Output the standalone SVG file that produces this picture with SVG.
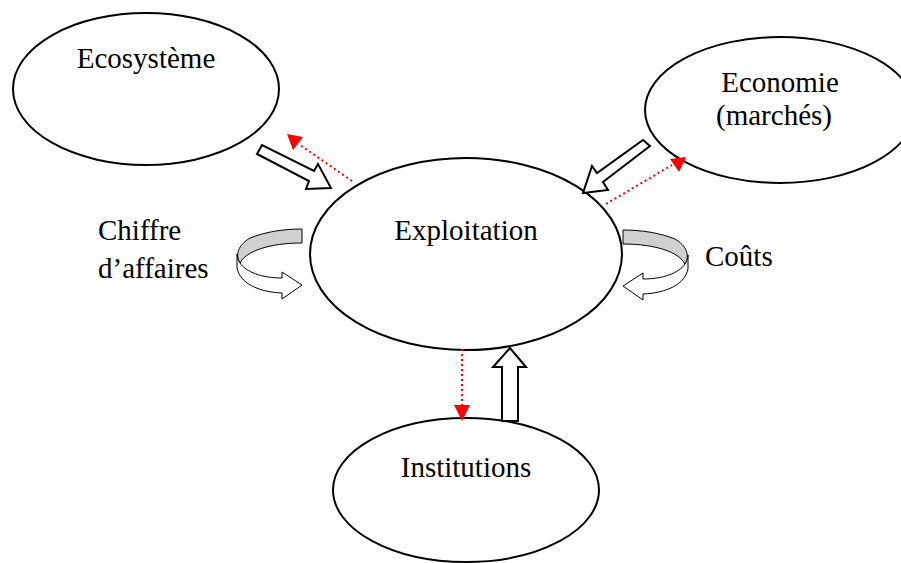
<svg xmlns="http://www.w3.org/2000/svg" width="901" height="563" viewBox="0 0 901 563">
<style>
.node{fill:#fff;stroke:#000;stroke-width:2}
.t{font-family:"Liberation Serif","Times New Roman",serif;font-size:29px;fill:#000}
.blk{fill:#fff;stroke:#000;stroke-width:2;stroke-linejoin:miter}
.red{stroke:#ff0000;stroke-width:2;stroke-dasharray:2 3;fill:none}
.rh{fill:#ff0000}
.g{fill:#d0d0d0;stroke:#000;stroke-width:1}
.w{fill:#fff;stroke:#000;stroke-width:1}
</style>
<rect width="901" height="563" fill="#fff"/>
<g id="ecosysteme"><ellipse class="node" cx="146" cy="89" rx="133" ry="76"/><text class="t" x="146" y="68" text-anchor="middle">Ecosystème</text></g>
<g id="economie"><ellipse class="node" cx="780" cy="110" rx="135" ry="73"/><text class="t" x="780" y="92" text-anchor="middle">Economie</text><text class="t" x="774" y="125" text-anchor="middle">(marchés)</text></g>
<g id="exploitation"><ellipse class="node" cx="466" cy="254" rx="156" ry="96"/><text class="t" x="466" y="240" text-anchor="middle">Exploitation</text></g>
<g id="institutions"><ellipse class="node" cx="466" cy="490" rx="133" ry="72"/><text class="t" x="466" y="477" text-anchor="middle">Institutions</text></g>
<g id="labels"><text class="t" x="98" y="240">Chiffre</text><text class="t" x="98" y="278">d’affaires</text><text class="t" x="705" y="266">Coûts</text></g>
<g id="connectors">
<polygon class="blk" points="257,154 262,145 314,171 318,164 331,188 306,189 309,181"/>
<polygon class="blk" points="650,146 643,140 597,173 592,166 583,193 608,190 603,182"/>
<polygon class="blk" points="502,421 502,367 493,367 510,348 526,367 518,367 518,421"/>
<line class="red" x1="352" y1="181" x2="300" y2="145"/><polygon class="rh" points="287,134 303,137 293,150"/>
<line class="red" x1="606" y1="204" x2="672" y2="165"/><polygon class="rh" points="686,157 670,159 679,172"/>
<line class="red" x1="462" y1="349" x2="462" y2="405"/><polygon class="rh" points="462,421 454,405 470,405"/>
<g id="curl-left">
<path class="g" d="M302,229 L302,243 C270,243 246,251 240,263 C235,255 238,245 250,238 C265,232 283,229 302,229 Z"/>
<path class="w" d="M237,254 L237,268 C240,283 258,292 282,293 L282,299 L302,285 L282,272 L282,278 C262,278 246,272 240,263 C238,260 237,257 237,254 Z"/>
</g>
<g id="curl-right" transform="translate(925,1) scale(-1,1)">
<path class="g" d="M302,229 L302,243 C270,243 246,251 240,263 C235,255 238,245 250,238 C265,232 283,229 302,229 Z"/>
<path class="w" d="M237,254 L237,268 C240,283 258,292 282,293 L282,299 L302,285 L282,272 L282,278 C262,278 246,272 240,263 C238,260 237,257 237,254 Z"/>
</g>
</g>
</svg>
